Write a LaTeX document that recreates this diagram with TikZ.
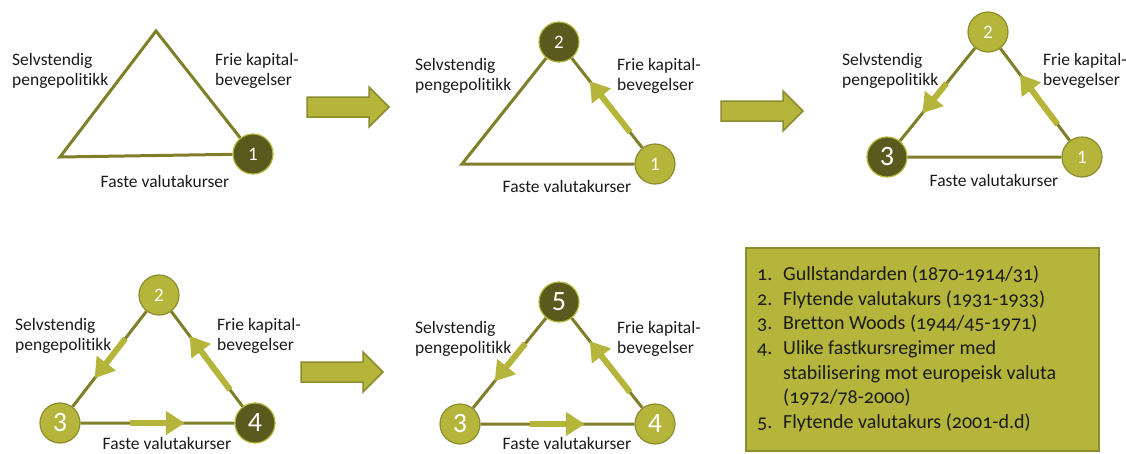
\documentclass[tikz,border=0pt]{standalone}
\usepackage{fontspec}
\setmainfont[Ligatures=NoCommon]{Carlito}
\newfontfamily\listfont[Numbers=OldStyle,Ligatures=NoCommon]{Carlito}
\usetikzlibrary{positioning,calc,arrows.meta}

\definecolor{olivedark}{HTML}{5A5A1E}
\definecolor{olivelight}{HTML}{B5B53C}
\definecolor{oliveline}{HTML}{7F7F2A}
\definecolor{oliveedge}{HTML}{8C8C30}
\definecolor{inktext}{HTML}{1A1A1A}

\tikzset{
  side/.style={draw=oliveline, line width=3pt, line join=miter},
  regime/.style={circle, minimum size=40pt, inner sep=0pt, line width=1.2pt, text=white, font=\fontsize{19}{19}\selectfont},
  past/.style={regime, fill=olivelight, draw=oliveedge},
  now/.style={regime, fill=olivedark, draw=olivelight},
  bignum/.style={font=\fontsize{28}{28}\selectfont},
  lbl/.style={align=left, anchor=base west, inner sep=0pt, text=inktext, font=\fontsize{17.5}{20}\selectfont},
  bottomlbl/.style={anchor=base, inner sep=0pt, text=inktext, font=\fontsize{17.5}{20}\selectfont},
  regimeshift/.style={draw=olivelight, line width=6pt, -{Triangle[length=19pt,width=23pt]}},
  blockarrow/.style={fill=olivelight, draw=oliveedge, line width=1.5pt, line join=miter},
  listbox/.style={fill=olivelight, draw=oliveedge, line width=1.5pt}
}

\begin{document}
\begin{tikzpicture}[x=1pt,y=-1pt]
\useasboundingbox (0,0) rectangle (1126,453);

% triangle 1
\coordinate (t1top) at (156,31);
\coordinate (t1left) at (60,157);
\node (t1c1) [now] at (253,154) {1};
\draw[side] (t1c1) -- (t1top) -- (t1left) -- (t1c1);
\node (t1sel) [lbl] at (12,85) {Selvstendig\\pengepolitikk};
\node (t1frie) [lbl] at (215,85) {Frie kapital-\\bevegelser};
\node (t1fast) [bottomlbl] at (165,187) {Faste valutakurser};

% triangle 2
\coordinate (t2left) at (462,164);
\node (t2c2) [now] at (559,42) {2};
\node (t2c1) [past] at (655,164) {1};
\draw[side] (t2c1) -- (t2c2) -- (t2left) -- (t2c1);
\draw[regimeshift] ($(t2c1)!0.26!(t2c2)$) -- ($(t2c1)!0.68!(t2c2)$);
\node (t2sel) [lbl] at (415,90) {Selvstendig\\pengepolitikk};
\node (t2frie) [lbl] at (617,90) {Frie kapital-\\bevegelser};
\node (t2fast) [bottomlbl] at (567,192) {Faste valutakurser};

% triangle 3
\node (t3c2) [past] at (988,32) {2};
\node (t3c3) [now,bignum] at (887,157) {3};
\node (t3c1) [past] at (1082,157) {1};
\draw[side] (t3c1) -- (t3c2) -- (t3c3) -- (t3c1);
\draw[regimeshift] ($(t3c1)!0.26!(t3c2)$) -- ($(t3c1)!0.66!(t3c2)$);
\draw[regimeshift] ($(t3c2)!0.41!(t3c3)$) -- ($(t3c2)!0.65!(t3c3)$);
\node (t3sel) [lbl] at (842,85) {Selvstendig\\pengepolitikk};
\node (t3frie) [lbl] at (1043,85) {Frie kapital-\\bevegelser};
\node (t3fast) [bottomlbl] at (994,186) {Faste valutakurser};

% triangle 4
\node (t4c2) [past] at (159,295) {2};
\node (t4c3) [past,bignum] at (60,423) {3};
\node (t4c4) [now,bignum] at (255,423) {4};
\draw[side] (t4c4) -- (t4c2) -- (t4c3) -- (t4c4);
\draw[regimeshift] ($(t4c2)!0.34!(t4c3)$) -- ($(t4c2)!0.65!(t4c3)$);
\draw[regimeshift] ($(t4c4)!0.26!(t4c2)$) -- ($(t4c4)!0.68!(t4c2)$);
\draw[regimeshift] ($(t4c3)!0.36!(t4c4)$) -- ($(t4c3)!0.64!(t4c4)$);
\node (t4sel) [lbl] at (15,350) {Selvstendig\\pengepolitikk};
\node (t4frie) [lbl] at (217,350) {Frie kapital-\\bevegelser};
\node (t4fast) [bottomlbl] at (167,449) {Faste valutakurser};

% triangle 5
\node (t5c5) [now,bignum] at (559,302) {5};
\node (t5c3) [past,bignum] at (460,424) {3};
\node (t5c4) [past,bignum] at (655,424) {4};
\draw[side] (t5c4) -- (t5c5) -- (t5c3) -- (t5c4);
\draw[regimeshift] ($(t5c5)!0.34!(t5c3)$) -- ($(t5c5)!0.65!(t5c3)$);
\draw[regimeshift] ($(t5c4)!0.26!(t5c5)$) -- ($(t5c4)!0.68!(t5c5)$);
\draw[regimeshift] ($(t5c3)!0.36!(t5c4)$) -- ($(t5c3)!0.64!(t5c4)$);
\node (t5sel) [lbl] at (415,353) {Selvstendig\\pengepolitikk};
\node (t5frie) [lbl] at (617,353) {Frie kapital-\\bevegelser};
\node (t5fast) [bottomlbl] at (567,449) {Faste valutakurser};

% block arrows between the stages
\foreach \x/\y in {307/107, 721/111, 301/372}
  \draw[blockarrow] (\x,\y-10) -- ++(62,0) -- ++(0,-10) -- ++(20,20) -- ++(-20,20) -- ++(0,-10) -- ++(-62,0) -- cycle;

% legend
\node (legend) [listbox, minimum width=353pt, minimum height=203pt, anchor=north west] at (745,247) {};
\node (items) [anchor=north west, inner sep=0pt, text=inktext, font=\listfont\fontsize{20}{24.7}\selectfont] at (757,263) {%
\begin{tabular}{@{}p{26pt}@{}l@{}}
1. & Gullstandarden (1870-1914/31)\\
2. & Flytende valutakurs (1931-1933)\\
3. & Bretton Woods (1944/45-1971)\\
4. & Ulike fastkursregimer med\\
   & stabilisering mot europeisk valuta\\
   & (1972/78-2000)\\
5. & Flytende valutakurs (2001-d.d)
\end{tabular}};
\end{tikzpicture}
\end{document}
